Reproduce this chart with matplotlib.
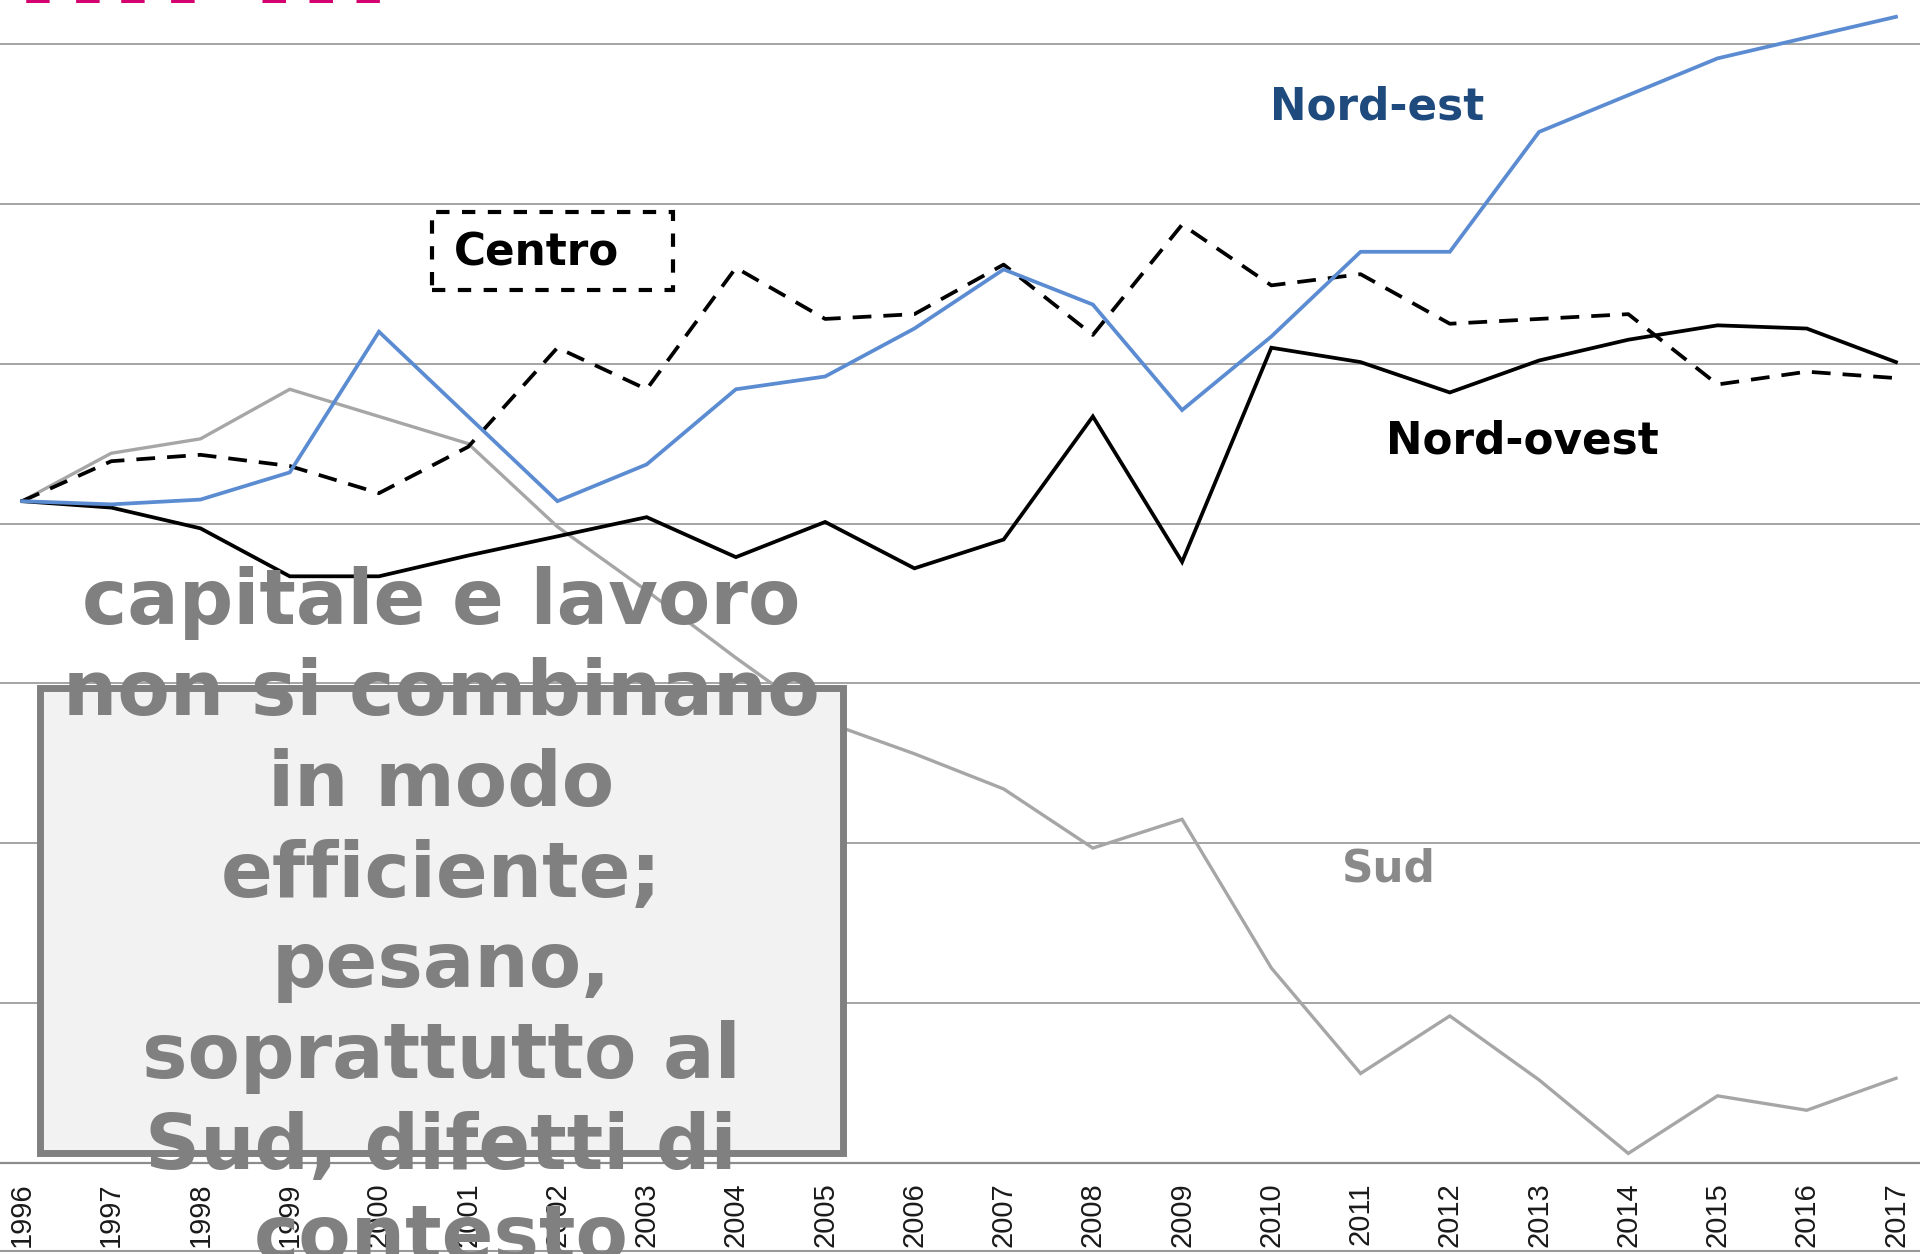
import matplotlib
matplotlib.use("Agg")
import matplotlib.pyplot as plt
from matplotlib.patches import Rectangle
from matplotlib.lines import Line2D

### Dati (indice relativo, unita = una linea della griglia)
############################################################

anni = list(range(1996, 2018))
nord_est = [4.14, 4.12, 4.15, 4.32, 5.20, 4.67, 4.14, 4.37, 4.84, 4.92, 5.22,
            5.59, 5.37, 4.71, 5.17, 5.70, 5.70, 6.45, 6.68, 6.91, 7.04, 7.17]
centro = [4.14, 4.39, 4.43, 4.36, 4.19, 4.48, 5.10, 4.84, 5.60, 5.28, 5.31,
          5.62, 5.18, 5.87, 5.49, 5.56, 5.25, 5.28, 5.31, 4.87, 4.95, 4.91]
nord_ovest = [4.14, 4.10, 3.97, 3.67, 3.67, 3.80, 3.92, 4.04, 3.79, 4.01, 3.72,
              3.90, 4.67, 3.76, 5.10, 5.01, 4.82, 5.02, 5.15, 5.24, 5.22, 5.01]
sud = [4.14, 4.44, 4.53, 4.84, 4.67, 4.50, 3.98, 3.58, 3.16, 2.76, 2.56,
       2.34, 1.97, 2.15, 1.22, 0.56, 0.92, 0.52, 0.06, 0.42, 0.33, 0.53]

nota = ("capitale e lavoro\nnon si combinano\nin modo\nefficiente;\npesano,\n"
        "soprattutto al\nSud, difetti di\ncontesto")

### Figura
##########

W, H = 1920, 1254
fig = plt.figure(figsize=(W / 100, H / 100), dpi=100)
fig.patch.set_facecolor("white")

def fx(px):
    return px / W

def fy(py):
    return 1 - py / H

asse_y = 1163        # pixel of the x axis
passo = 159.86       # pixels per grid step
ax = fig.add_axes([0, fy(asse_y), 1, asse_y / H])
ax.set_xlim(1996 - 22 / 89.24, 2017 + 24 / 89.24)
ax.set_ylim(0, asse_y / passo)

ax.plot(anni, sud, color="#a6a6a6", lw=2.4, solid_joinstyle="miter", zorder=3)
ax.plot(anni, nord_ovest, color="black", lw=2.7, solid_joinstyle="miter", zorder=4)
ax.plot(anni, centro, color="black", lw=2.7, ls=(0, (5.0, 3.2)), zorder=4)
ax.plot(anni, nord_est, color="#5b8cd2", lw=2.7, solid_joinstyle="miter", zorder=5)

ax.set_yticks(range(0, 8))
ax.set_yticklabels([])
ax.grid(axis="y", color="#8c8c8c", lw=1.1)
ax.set_axisbelow(True)
for s in ["top", "left", "right"]:
    ax.spines[s].set_visible(False)
ax.spines["bottom"].set_color("#8c8c8c")
ax.spines["bottom"].set_linewidth(1.6)
ax.set_xticks(anni)
ax.set_xticklabels([str(a) for a in anni], rotation=90, fontsize=21,
                   family="Liberation Sans", color="#1a1a1a")
ax.tick_params(axis="x", length=0, pad=14)
ax.tick_params(axis="y", length=0)
ax.patch.set_alpha(0)

# etichette delle serie
lab = dict(family="DejaVu Sans", weight="bold", fontsize=31.5, va="baseline")
fig.text(fx(1270), fy(120), "Nord-est", color="#1f4a7e", **lab)
fig.text(fx(1386), fy(453), "Nord-ovest", color="black", **lab)
fig.text(fx(1342), fy(882), "Sud", color="#8a8a8a", **lab)
fig.text(fx(454), fy(265), "Centro", color="black", **lab)
fig.patches.append(Rectangle((fx(432), fy(290)), fx(673) - fx(432), fy(212) - fy(290),
                             transform=fig.transFigure, fill=False, ec="black",
                             lw=3, ls=(0, (3.2, 3.0)), zorder=6))

# titolo tagliato in alto
fig.text(fx(15), fy(3), "nn m", color="#d4006f", family="DejaVu Sans",
         weight="bold", fontsize=96, va="baseline", ha="left")

# riquadro sovrapposto
fig.patches.append(Rectangle((fx(40), fy(1153)), fx(843) - fx(40), fy(688) - fy(1153),
                             transform=fig.transFigure, fc="#f2f2f2", ec="#808080",
                             lw=5, zorder=7))
fig.text(fx(441), fy(921), nota, color="#808080", family="DejaVu Sans",
         weight="bold", fontsize=55, ha="center", va="center",
         linespacing=1.29, zorder=8)

fig.lines.append(Line2D([0, 1], [fy(1251), fy(1251)], transform=fig.transFigure,
                        color="#999999", lw=1.5))

fig.savefig("out.png", dpi=100)
